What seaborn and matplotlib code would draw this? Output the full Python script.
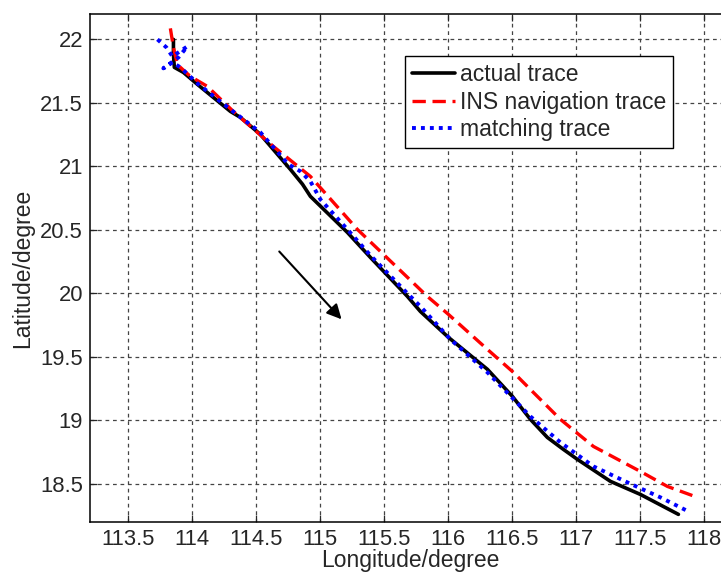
import pandas as pd
import matplotlib
matplotlib.use("Agg")
import matplotlib.pyplot as plt
import seaborn as sns

# === DATA ===
actual_lon = [113.852, 113.852, 113.859, 113.930, 114.039, 114.297, 114.375, 114.531,
              114.766, 114.860, 114.922, 115.211, 115.391, 115.680, 115.781, 116.000,
              116.305, 116.500, 116.641, 116.773, 116.898, 117.008, 117.266, 117.500,
              117.797]
actual_lat = [22.000, 21.882, 21.780, 21.740, 21.646, 21.433, 21.386, 21.252,
              20.976, 20.860, 20.764, 20.480, 20.283, 19.976, 19.858, 19.654,
              19.402, 19.189, 19.008, 18.866, 18.772, 18.693, 18.520, 18.417,
              18.260]

ins_lon = [113.828, 113.852, 113.883, 113.906, 113.984, 114.117, 114.320, 114.633,
           114.922, 115.289, 115.836, 116.000, 116.305, 116.508, 116.664, 116.875,
           117.133, 117.500, 117.711, 117.945]
ins_lat = [22.087, 21.937, 21.803, 21.780, 21.709, 21.630, 21.433, 21.157,
           20.921, 20.504, 19.976, 19.835, 19.559, 19.378, 19.220, 19.008,
           18.795, 18.598, 18.480, 18.394]

match_lon = [113.727, 113.797, 113.844, 113.961, 113.891, 113.773, 113.844, 113.906,
             114.039, 114.297, 114.531, 114.750, 114.844, 114.922, 115.000, 115.211,
             115.391, 115.680, 115.781, 116.016, 116.305, 116.641, 116.875, 117.133,
             117.398, 117.656, 117.875]
match_lat = [22.000, 21.937, 21.866, 21.945, 21.858, 21.772, 21.819, 21.780,
             21.654, 21.449, 21.268, 21.016, 20.961, 20.882, 20.740, 20.504,
             20.299, 20.000, 19.898, 19.638, 19.378, 19.031, 18.827, 18.638,
             18.512, 18.394, 18.283]

labels = ["actual trace", "INS navigation trace", "matching trace"]
x_ticks = [113.5, 114, 114.5, 115, 115.5, 116, 116.5, 117, 117.5, 118]
y_ticks = [18.5, 19, 19.5, 20, 20.5, 21, 21.5, 22]

# direction arrow (tail -> head)
arrow_tail = (114.664, 20.346)
arrow_head = (115.18, 19.78)

# === STYLE ===
sns.set_style("ticks")
plt.rcParams["font.family"] = ["Liberation Sans", "DejaVu Sans"]
FS = 16.5
TICK_FS = 15.8
plt.rcParams["font.size"] = FS

fig = plt.figure(figsize=(7.21, 5.74), dpi=100)
ax = fig.add_axes([0.1248, 0.0906, 0.8877, 0.885])

traces = [
    (actual_lon, actual_lat, "black", "-", 2.6),
    (ins_lon, ins_lat, "#ff0000", (0, (4, 2)), 2.4),
    (match_lon, match_lat, "#0000ff", (0, (1, 1.3)), 2.8),
]
for (lon, lat, col, ls, lw), lab in zip(traces, labels):
    df = pd.DataFrame({"lon": lon, "lat": lat})
    sns.lineplot(data=df, x="lon", y="lat", sort=False, estimator=None, ax=ax,
                 color=col, linewidth=lw, label=lab)
    ax.lines[-1].set_linestyle(ls)
    ax.lines[-1].set_dash_capstyle("butt")

ax.annotate("", xy=arrow_head, xytext=arrow_tail,
            arrowprops=dict(arrowstyle="-|>", color="black", lw=1.5, mutation_scale=22))

ax.set_xlim(113.2, 118.2)
ax.set_ylim(18.2, 22.2)
ax.set_xticks(x_ticks)
ax.set_xticklabels([f"{v:g}" for v in x_ticks])
ax.set_yticks(y_ticks)
ax.set_yticklabels([f"{v:g}" for v in y_ticks])
ax.grid(True, color="#444444", linestyle=(0, (3, 3)), linewidth=0.9)
ax.tick_params(direction="in", length=5, width=0.9, top=True, right=True,
               labelsize=TICK_FS, pad=5)
for sp in ax.spines.values():
    sp.set_visible(True)
    sp.set_linewidth(1.1)
    sp.set_color("black")

ax.set_xlabel("Longitude/degree", fontsize=FS, labelpad=-1)
ax.set_ylabel("Latitude/degree", fontsize=FS, labelpad=4)

leg = ax.legend(loc="upper left", bbox_to_anchor=(0.492, 0.917), borderaxespad=0,
                fancybox=False, framealpha=1, edgecolor="black", fontsize=FS,
                handlelength=1.9, handletextpad=0.2, labelspacing=0.2, borderpad=0.3)
leg.get_frame().set_linewidth(1.0)

fig.savefig("out.png", dpi=100)
